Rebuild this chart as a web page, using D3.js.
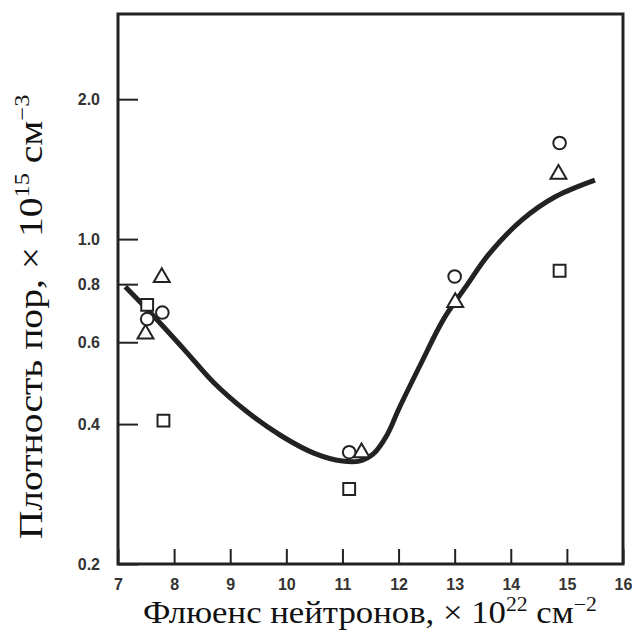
<!DOCTYPE html>
<html>
<head>
<meta charset="utf-8">
<script src="https://cdn.jsdelivr.net/npm/d3@7"></script>
<style>
  html, body { margin: 0; padding: 0; background: #fff; }
  svg { display: block; }
</style>
</head>
<body>
<svg id="chart" width="632" height="634"></svg>
<script>
// Tick values on both axes
const xTickValues = [7, 8, 9, 10, 11, 12, 13, 14, 15, 16];
const yTickValues = [0.2, 0.4, 0.6, 0.8, 1.0, 2.0];

// Measured void densities (×10^15 cm^-3) vs neutron fluence (×10^22 cm^-2)
const circleX = [7.52, 7.79, 11.12, 13.0, 14.87];
const circleY = [0.673, 0.695, 0.348, 0.831, 1.61];
const triangleX = [7.49, 7.78, 11.34, 13.01, 14.85];
const triangleY = [0.625, 0.827, 0.347, 0.731, 1.38];
const squareX = [7.52, 7.81, 11.12, 14.87];
const squareY = [0.722, 0.407, 0.29, 0.855];

// Trend curve through the data
const curveX = [7.13, 7.6, 8.2, 8.7, 9.3, 9.9, 10.5, 11.0, 11.3, 11.55, 11.8, 12.0, 12.4, 12.8, 13.2, 13.6, 14.2, 14.8, 15.5];
const curveY = [0.79, 0.69, 0.575, 0.492, 0.425, 0.378, 0.346, 0.333, 0.333, 0.345, 0.38, 0.43, 0.54, 0.672, 0.79, 0.925, 1.10, 1.235, 1.34];

const svg = d3.select("#chart");
const ink = "#222";

const x = d3.scaleLinear().domain([7, 16]).range([118, 623]);
const y = d3.scaleLog().domain([0.2, 3.05]).range([564, 14]);

// Axes with inward ticks
const yAxis = d3.axisLeft(y)
  .tickValues(yTickValues)
  .tickSize(-20)
  .tickPadding(18)
  .tickFormat(d3.format(".1f"));
const xAxis = d3.axisBottom(x)
  .tickValues(xTickValues)
  .tickSize(-15)
  .tickPadding(15)
  .tickFormat(d3.format("d"));

const gy = svg.append("g").attr("transform", `translate(${x(7)},0)`).call(yAxis);
const gx = svg.append("g").attr("transform", `translate(0,${y(0.2)})`).call(xAxis);
[gx, gy].forEach(g => {
  g.select(".domain").remove();
  g.selectAll(".tick line").attr("stroke", ink).attr("stroke-width", 2);
  g.selectAll(".tick text")
    .attr("fill", "#333")
    .style("font-family", "'Liberation Sans', Arial, sans-serif")
    .style("font-weight", "bold")
    .style("font-size", "16px");
});

// Plot frame
svg.append("rect")
  .attr("x", x(7)).attr("y", y(3.05))
  .attr("width", x(16) - x(7)).attr("height", y(0.2) - y(3.05))
  .attr("fill", "none").attr("stroke", ink).attr("stroke-width", 3);

// Trend curve
const curveData = curveX.map((d, i) => [d, curveY[i]]);
svg.append("path")
  .datum(curveData)
  .attr("d", d3.line().x(d => x(d[0])).y(d => y(d[1])).curve(d3.curveCatmullRom.alpha(0.5)))
  .attr("fill", "none").attr("stroke", ink).attr("stroke-width", 5)
  .attr("stroke-linecap", "butt");

// Markers
const markers = svg.append("g").attr("fill", "#fff").attr("stroke", ink).attr("stroke-width", 2);
const sym = (type, size) => d3.symbol().type(type).size(size)();
const pts = (xs, ys) => xs.map((d, i) => [d, ys[i]]);

markers.selectAll("path.sq").data(pts(squareX, squareY)).join("path")
  .attr("class", "sq")
  .attr("transform", d => `translate(${x(d[0])},${y(d[1])})`)
  .attr("d", sym(d3.symbolSquare, 140));
markers.selectAll("path.tri").data(pts(triangleX, triangleY)).join("path")
  .attr("class", "tri")
  .attr("transform", d => `translate(${x(d[0])},${y(d[1])})`)
  .attr("d", sym(d3.symbolTriangle, 110));
markers.selectAll("path.ci").data(pts(circleX, circleY)).join("path")
  .attr("class", "ci")
  .attr("transform", d => `translate(${x(d[0])},${y(d[1])})`)
  .attr("d", sym(d3.symbolCircle, 125));

// Axis titles: serif text with superscripts, stretched along its run to a given length
const serif = "'Liberation Serif', 'Times New Roman', serif";
function title(parts, size, supSize, rise) {
  const g = svg.append("g");
  const t = g.append("text")
    .attr("text-anchor", "middle")
    .style("font-family", serif).style("font-size", size + "px").attr("fill", "#111");
  let raised = false;
  parts.forEach(([s, sup]) => {
    let dy = 0;
    if (sup && !raised) dy = -rise;
    if (!sup && raised) dy = rise;
    raised = sup;
    t.append("tspan")
      .attr("dy", dy)
      .style("font-size", sup ? supSize + "px" : null)
      .text(s);
  });
  return { g, t };
}

const xt = title([["Флюенс нейтронов, × 10", false], ["22", true], [" см", false], ["−2", true]], 32, 20, 12);
const xw = xt.t.node().getComputedTextLength();
xt.g.attr("transform", `translate(370,623) scale(${454 / xw},1)`);

const yt = title([["Плотность пор, × 10", false], ["15", true], [" см", false], ["−3", true]], 34, 21, 13);
const yw = yt.t.node().getComputedTextLength();
yt.g.attr("transform", `translate(42,317) rotate(-90) scale(${445 / yw},1)`);
</script>
</body>
</html>
